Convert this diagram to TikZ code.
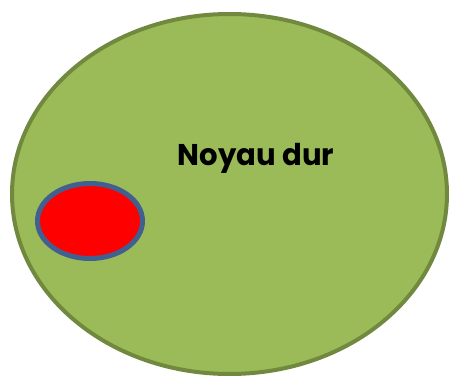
\documentclass[tikz,border=0pt]{standalone}
\usepackage{fontspec}
\setmainfont{Poppins}
\definecolor{outerfill}{HTML}{9BBB59}
\definecolor{outerline}{HTML}{71893F}
\definecolor{innerline}{HTML}{41608F}
\begin{document}
\begin{tikzpicture}[x=1pt,y=-1pt,
  bigell/.style={fill=outerfill,draw=outerline,line width=4pt},
  smallell/.style={fill=red,draw=innerline,line width=5pt},
  lbl/.style={font=\fontsize{30}{34}\selectfont\bfseries,text=black,inner sep=0pt,xscale=0.97}]
\useasboundingbox (0,0) rectangle (450,377);
\path[bigell] (229.5,194) ellipse [x radius=217.5, y radius=180];
\path[smallell] (90,221) ellipse [x radius=52.5, y radius=37.5];
\node[lbl,anchor=base] (t) at (256,166) {Noyau dur};
\end{tikzpicture}
\end{document}
